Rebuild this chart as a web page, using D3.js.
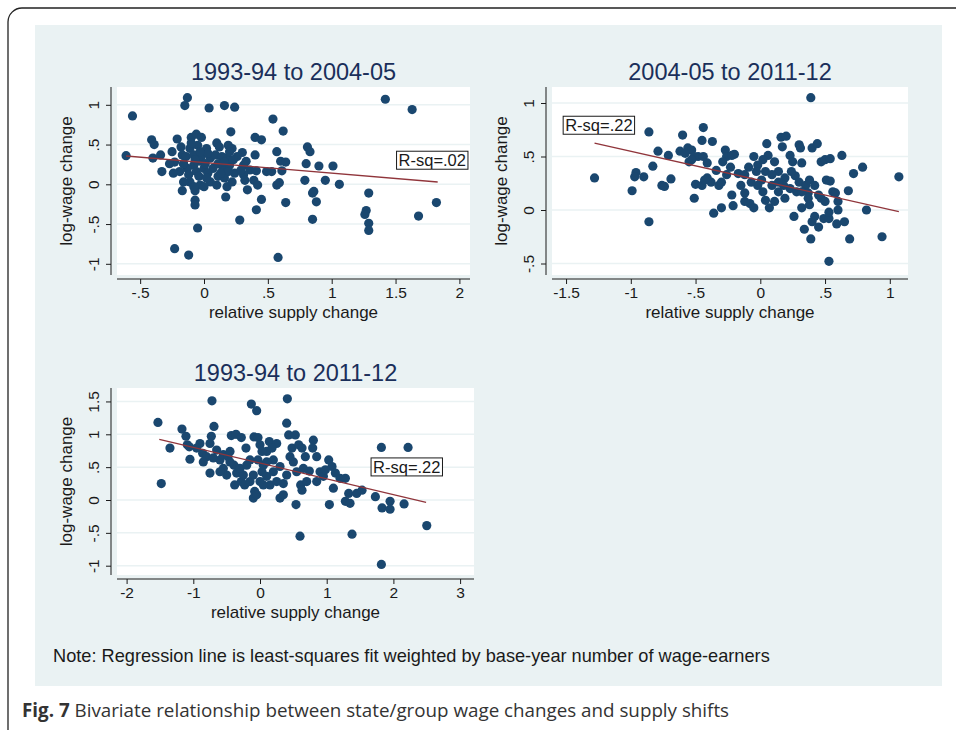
<!DOCTYPE html>
<html><head><meta charset="utf-8">
<script src="https://cdn.jsdelivr.net/npm/d3@7"></script>
<style>body{margin:0;background:#fff}svg{display:block;font-family:"Liberation Sans",Arial,sans-serif}</style>
</head><body><svg id="c" width="956" height="730"></svg>
<script>
// points: [relative supply change, log-wage change]
const pts1 = [[-0.61,0.36],[-0.56,0.86],[-0.13,1.09],[-0.15,0.99],[0.04,0.96],[0.16,0.99],[0.24,0.97],[0.54,0.82],[0.62,0.67],[0.21,0.66],[0.4,0.59],[0.45,0.56],[-0.41,0.56],[-0.39,0.5],[-0.21,0.57],[-0.1,0.59],[-0.06,0.63],[-0.02,0.59],[-0.18,0.47],[-0.25,0.41],[-0.4,0.33],[-0.34,0.37],[-0.33,0.16],[-0.23,0.28],[-0.17,0.37],[-0.11,0.45],[-0.05,0.49],[0.02,0.45],[0.1,0.52],[0.12,0.47],[0.19,0.49],[0.22,0.45],[0.3,0.4],[0.4,0.37],[0.57,0.41],[0.81,0.47],[0.83,0.41],[0.8,0.26],[0.9,0.23],[1.01,0.23],[0.6,0.29],[0.64,0.28],[0.26,0.35],[0.18,0.33],[0.05,0.33],[-0.03,0.29],[-0.08,0.24],[-0.13,0.2],[-0.19,0.16],[-0.24,0.14],[-0.06,0.16],[0,0.2],[0.07,0.2],[0.15,0.2],[0.2,0.24],[0.31,0.24],[0.36,0.18],[0.41,0.17],[0.49,0.16],[0.53,0.16],[0.61,0.17],[-0.11,0.03],[-0.16,0.03],[-0.03,-0.01],[0.05,0.03],[0.1,-0.01],[0.18,-0.03],[0.22,0.03],[0.31,0.12],[0.32,0.05],[0.39,0.05],[0.42,-0.01],[0.57,-0.01],[0.59,0.02],[0.79,0.05],[0.95,0.05],[1.06,0],[-0.17,-0.08],[-0.07,-0.08],[0,-0.03],[0.17,-0.16],[0.34,-0.07],[0.45,-0.19],[0.64,-0.23],[0.86,-0.09],[0.85,-0.11],[0.88,-0.22],[1.29,-0.11],[1.82,-0.23],[-0.07,-0.2],[-0.07,-0.26],[0.41,-0.32],[0.28,-0.45],[0.85,-0.44],[1.27,-0.33],[1.26,-0.38],[1.68,-0.4],[1.29,-0.49],[1.29,-0.58],[-0.05,-0.55],[-0.23,-0.81],[-0.12,-0.89],[0.58,-0.92],[1.42,1.07],[1.63,0.94],[-0.14,0.35],[-0.08,0.37],[-0.02,0.35],[0.03,0.39],[0.09,0.37],[0.14,0.35],[-0.07,0.31],[0.01,0.26],[0.11,0.26],[0.16,0.28],[0.23,0.31],[-0.16,0.26],[-0.12,0.12],[-0.04,0.1],[0.03,0.14],[0.11,0.1],[0.16,0.08],[0.24,0.14],[0.29,0.18],[-0.1,0.52],[-0.03,0.41],[-0.16,0.26],[-0.27,0.26],[0.19,0.16],[0.13,0.14],[0.02,0.08],[-0.08,-0.03],[0.2,0.41],[0.33,0.29]];
const pts2 = [[-1.28,0.3],[-0.99,0.18],[-0.96,0.35],[-0.97,0.31],[-0.9,0.31],[-0.86,0.73],[-0.83,0.41],[-0.86,-0.11],[-0.79,0.55],[-0.76,0.23],[-0.74,0.22],[-0.69,0.29],[-0.71,0.51],[-0.62,0.55],[-0.6,0.7],[-0.56,0.58],[-0.53,0.56],[-0.55,0.45],[-0.51,0.11],[-0.5,0.24],[-0.45,0.23],[-0.44,0.77],[-0.45,0.65],[-0.48,0.5],[-0.44,0.5],[-0.41,0.44],[-0.41,0.3],[-0.37,0.64],[-0.36,-0.03],[-0.34,0.37],[-0.32,0.23],[-0.3,0.02],[-0.27,0.56],[-0.26,0.5],[-0.23,0.4],[-0.22,0.14],[-0.21,0.04],[-0.2,0.52],[-0.17,0.34],[-0.15,0.23],[-0.12,0.16],[-0.09,0.4],[-0.08,0.06],[-0.05,0.02],[-0.05,0.5],[-0.02,0.42],[0.01,0.28],[0.04,0.09],[0.05,0.62],[0.06,0.51],[0.07,0.02],[0.11,0.08],[0.16,0.68],[0.2,0.69],[0.17,0.59],[0.23,0.51],[0.25,0.45],[0.27,0.32],[0.3,0.61],[0.31,0.58],[0.32,0.44],[0.32,0.02],[0.3,0.26],[0.35,0.23],[0.37,0.16],[0.38,0.28],[0.4,0.58],[0.44,0.62],[0.38,0.05],[0.26,-0.06],[0.34,-0.18],[0.4,-0.11],[0.42,-0.06],[0.45,-0.16],[0.47,0.45],[0.5,0.47],[0.54,0.48],[0.51,0.28],[0.54,0.27],[0.56,0.17],[0.58,0.16],[0.6,0.08],[0.6,0],[0.63,0.51],[0.68,0.18],[0.72,0.34],[0.79,0.4],[0.82,0],[0.65,-0.11],[0.59,-0.13],[0.69,-0.27],[0.94,-0.25],[1.07,0.31],[0.39,1.05],[0.39,-0.27],[0.53,-0.48],[0.49,-0.08],[0.53,-0.08],[0.45,0.14],[0.14,0.17],[0.19,0.11],[0.09,0.23],[-0.02,0.23],[-0.07,0.26],[-0.12,0.33],[0.14,0.36],[0.19,0.3],[0.11,0.45],[0.02,0.47],[-0.03,0.36],[-0.26,0.33],[-0.3,0.26],[-0.38,0.26],[-0.43,0.28],[0.23,0.2],[0.28,0.17],[0.32,0.17],[0.42,0.23],[0.47,0.11],[-0.12,0.08],[0.02,0.17],[0.18,0.23],[-0.22,0.51],[-0.29,0.45],[-0.51,0.5],[-0.58,0.53],[-0.53,0.47],[0.04,0.36],[0.09,0.33],[0.14,0.26],[0.24,0.36],[0.37,0.11],[0.5,0.08],[0.53,-0.02]];
const pts3 = [[-1.53,1.18],[-1.48,0.25],[-1.35,0.79],[-1.17,1.08],[-1.11,0.97],[-1.09,0.84],[-1.06,0.81],[-1.05,0.62],[-0.9,0.86],[-0.86,0.71],[-0.8,0.66],[-0.75,0.41],[-0.72,1.51],[-0.69,1.12],[-0.73,0.97],[-0.75,0.86],[-0.65,0.76],[-0.6,0.61],[-0.55,0.69],[-0.48,0.66],[-0.45,0.74],[-0.43,0.98],[-0.36,1],[-0.28,0.95],[-0.39,0.53],[-0.35,0.41],[-0.38,0.23],[-0.28,0.28],[-0.23,0.23],[-0.21,0.79],[-0.15,0.61],[-0.13,1.46],[-0.05,1.36],[-0.09,0.96],[-0.03,0.95],[0,0.84],[-0.08,0.13],[-0.1,0.03],[-0.05,0.08],[0.03,0.43],[0.05,0.53],[0.1,0.74],[0.14,0.89],[0.2,0.61],[0.25,0.86],[0.3,0.51],[0.35,0.25],[0.4,1.17],[0.41,1.54],[0.43,0.99],[0.53,0.99],[0.48,0.79],[0.58,0.84],[0.63,0.79],[0.68,0.66],[0.55,0.43],[0.61,0.23],[0.63,0.15],[0.7,0.28],[0.74,0.44],[0.8,0.91],[0.79,0.79],[0.85,0.66],[0.9,0.43],[0.95,0.36],[1.03,0.61],[1.08,0.51],[1.13,0.41],[1.1,0.18],[1.2,0.33],[1.28,0.33],[1.33,0.1],[1.28,-0.02],[1.35,-0.05],[1.45,0.1],[1.53,0.15],[1.73,0.05],[1.82,0.8],[2.22,0.8],[1.83,-0.12],[1.95,-0.02],[1.95,-0.14],[2.16,-0.06],[2.5,-0.39],[0.6,-0.55],[1.38,-0.52],[1.82,-0.98],[0.54,-0.07],[1.04,-0.07],[0.3,0.03],[0.35,0.08],[0.15,0.23],[0.05,0.23],[-0.15,0.28],[-0.25,0.38],[-0.5,0.38],[-0.55,0.48],[-0.45,0.58],[-0.3,0.48],[-0.2,0.53],[-0.1,0.38],[0,0.28],[0.1,0.36],[0.2,0.43],[0.25,0.28],[0.4,0.38],[0.5,0.58],[0.65,0.48],[0.85,0.28],[0.98,0.46],[0.45,0.66],[0.1,0.58],[0.18,0.79],[0.03,0.74],[-0.03,0.61],[-0.6,0.43],[-0.7,0.64],[-0.95,0.79],[-0.85,0.58]];
const fit1 = [[-0.61,0.356],[1.83,0.029]];
const fit2 = [[-1.28,0.626],[1.07,-0.016]];
const fit3 = [[-1.51,0.924],[2.49,-0.036]];
const titles = ["1993-94 to 2004-05","2004-05 to 2011-12","1993-94 to 2011-12"];
const xTicks1 = [-0.5,0,0.5,1,1.5,2], yTicks1 = [-1,-0.5,0,0.5,1];
const xTicks2 = [-1.5,-1,-0.5,0,0.5,1], yTicks2 = [-0.5,0,0.5,1];
const xTicks3 = [-2,-1,0,1,2,3], yTicks3 = [-1,-0.5,0,0.5,1,1.5];
const rsq = ["R-sq=.02","R-sq=.22","R-sq=.22"];

const navy = "#1a476f", red = "#90353b", ink = "#1a1a1a";
const svg = d3.select("#c");
svg.append("rect").attr("x",8).attr("y",8).attr("width",970).attr("height",760).attr("rx",14)
  .attr("fill","#fff").attr("stroke","#222").attr("stroke-width",1.3);
svg.append("rect").attr("x",35).attr("y",25).attr("width",907).attr("height",661).attr("fill","#eaf2f3");

const fmt = d => d === 0 ? "0" : (String(d).replace(/^(-?)0\./,"$1."));

function panel(o) {
  const x = d3.scaleLinear().domain([0,1]).range(o.x01);
  const y = d3.scaleLinear().domain([0,1]).range(o.y01);
  const g = svg.append("g");
  g.append("rect").attr("x",o.L).attr("y",o.T).attr("width",o.R-o.L).attr("height",o.B-o.T).attr("fill","#fff");
  g.selectAll(".grid").data(o.yt).join("line").attr("x1",o.L).attr("x2",o.R)
    .attr("y1",d=>y(d)).attr("y2",d=>y(d)).attr("stroke","#eaf2f3").attr("stroke-width",1.5);
  const xa = g.append("g").attr("transform",`translate(0,${o.B+4})`)
    .call(d3.axisBottom(x).tickValues(o.xt).tickFormat(fmt).tickSize(5).tickSizeOuter(0));
  xa.select(".domain").attr("d",`M${o.L},0H${o.R}`);
  const ya = g.append("g").attr("transform",`translate(${o.L-6},0)`)
    .call(d3.axisLeft(y).tickValues(o.yt).tickFormat(fmt).tickSize(5).tickSizeOuter(0));
  ya.select(".domain").attr("d",`M0,${o.T}V${o.B}`);
  g.selectAll(".tick text").attr("font-size",15.5).attr("fill",ink).attr("font-family","Liberation Sans, Arial");
  g.selectAll(".domain,.tick line").attr("stroke",ink);
  ya.selectAll(".tick text").attr("text-anchor","middle").attr("x",null).attr("dy",null)
    .attr("transform","translate(-12,0) rotate(-90)").attr("y",0);
  g.selectAll(".dot").data(o.pts).join("circle").attr("cx",d=>x(d[0])).attr("cy",d=>y(d[1]))
    .attr("r",4.6).attr("fill",navy);
  g.append("path").datum(o.fit).attr("d",d3.line().x(d=>x(d[0])).y(d=>y(d[1])))
    .attr("stroke",red).attr("stroke-width",1.3).attr("fill","none");
  const cx = (o.L+o.R)/2;
  g.append("text").attr("x",cx).attr("y",o.T-7).attr("text-anchor","middle").attr("font-size",23.5).attr("fill","#1a2f5a").text(o.title);
  g.append("text").attr("x",cx).attr("y",o.B+43).attr("text-anchor","middle").attr("font-size",17).attr("fill",ink).text("relative supply change");
  g.append("text").attr("transform",`translate(${o.L-45},${(o.T+o.B)/2}) rotate(-90)`).attr("text-anchor","middle")
    .attr("font-size",17).attr("fill",ink).text("log-wage change");
  const box = g.append("rect");
  const t = g.append("text").attr("x",x(o.rx)+3).attr("y",y(o.ry)).attr("dy","0.35em").attr("font-size",16.5).attr("fill",ink).text(o.rsq);
  const bb = t.node().getBBox();
  box.attr("x",bb.x-2).attr("y",bb.y).attr("width",bb.width+4).attr("height",bb.height)
    .attr("fill","#fff").attr("stroke",ink).attr("stroke-width",1);
}

panel({L:117,R:470,T:87,B:275,x01:[204,331.7],y01:[184.3,104.8],xt:xTicks1,yt:yTicks1,pts:pts1,fit:fit1,title:titles[0],rsq:rsq[0],rx:1.5,ry:0.3});
panel({L:552,R:908,T:87,B:275,x01:[760.3,889.8],y01:[210,103],xt:xTicks2,yt:yTicks2,pts:pts2,fit:fit2,title:titles[1],rsq:rsq[1],rx:-1.53,ry:0.79});
panel({L:117,R:474,T:388,B:575,x01:[260,326.7],y01:[500,434.3],xt:xTicks3,yt:yTicks3,pts:pts3,fit:fit3,title:titles[2],rsq:rsq[2],rx:1.65,ry:0.5});

svg.append("text").attr("x",53).attr("y",662).attr("font-size",18.2).attr("fill",ink)
  .text("Note: Regression line is least-squares fit weighted by base-year number of wage-earners");
const cap = svg.append("text").attr("x",22).attr("y",717).attr("font-size",18.8).attr("fill","#333").attr("font-family","Open Sans, sans-serif");
cap.append("tspan").attr("font-weight","bold").text("Fig. 7");
cap.append("tspan").text(" Bivariate relationship between state/group wage changes and supply shifts");
</script></body></html>
